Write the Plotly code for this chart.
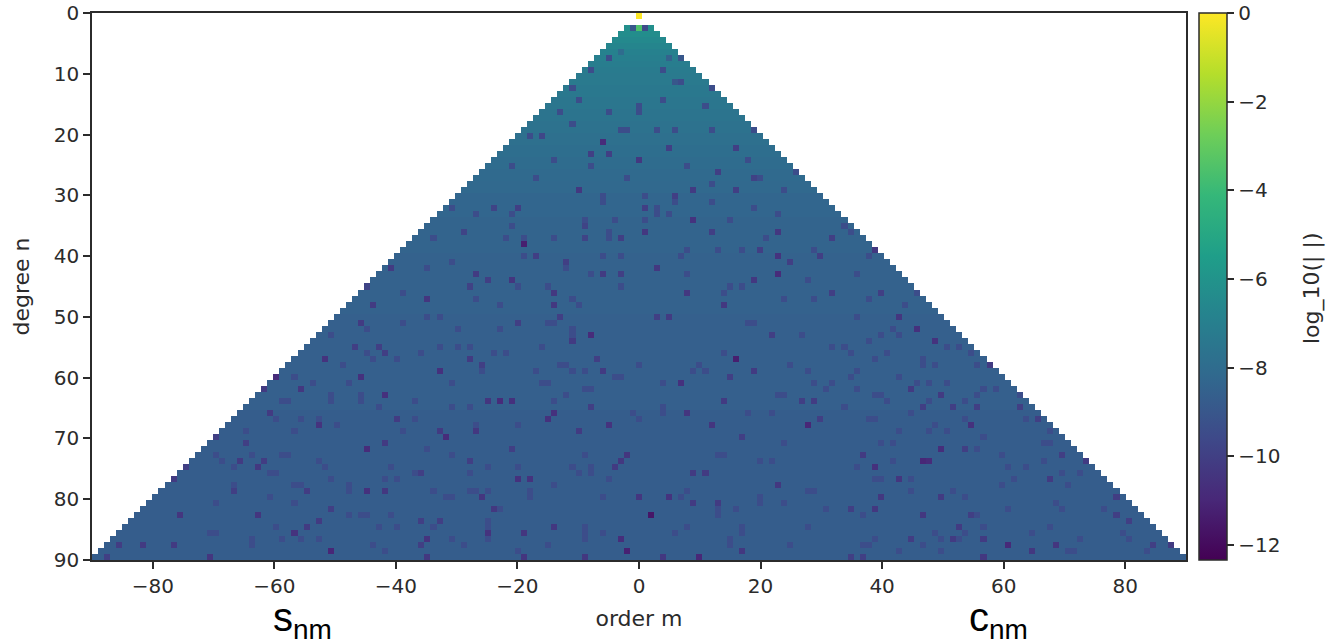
import plotly.graph_objects as go

# Typical log10 magnitude on each degree n = 0..90, estimated from the picture by colour
degree_level = [
    0.0, None, -6.2, -6.3, -6.5, -6.7, -6.9, -7.0, -7.1, -7.2,
    -7.3, -7.3, -7.4, -7.4, -7.5, -7.5, -7.6, -7.6, -7.7, -7.7,
    -7.8, -7.8, -7.9, -7.9, -8.0, -8.0, -8.1, -8.1, -8.2, -8.2,
    -8.3, -8.3, -8.3, -8.3, -8.4, -8.4, -8.4, -8.4, -8.4, -8.4,
    -8.5, -8.5, -8.5, -8.5, -8.5, -8.5, -8.5, -8.5, -8.5, -8.5,
    -8.6, -8.6, -8.6, -8.6, -8.6, -8.6, -8.6, -8.6, -8.6, -8.6,
    -8.6, -8.6, -8.6, -8.6, -8.6, -8.6, -8.7, -8.7, -8.7, -8.7,
    -8.7, -8.7, -8.7, -8.7, -8.7, -8.7, -8.7, -8.7, -8.7, -8.7,
    -8.7, -8.7, -8.7, -8.7, -8.7, -8.7, -8.7, -8.7, -8.7, -8.7, -8.7,
]

# Moderately dark cells seen in the zoomed crops: (order m, degree n)
mid_tone_value = -9.4
mid_tone_cells = [
    (-5, 7), (-8, 9), (4, 9), (7, 11), (6, 11), (-11, 12), (12, 12), (-10, 14), (4, 14), (0, 15), (11, 15), (-13, 16), (-5, 16), (0, 16),
    (-11, 18), (-3, 19), (-2, 19), (3, 19), (6, 19), (12, 19), (19, 19), (-18, 20), (18, 24), (-14, 24), (-8, 25), (8, 25), (-21, 25),
    (13, 26), (26, 26), (-17, 27), (-2, 27), (20, 27), (12, 28), (24, 29), (-6, 30), (1, 30), (-6, 31), (6, 31), (12, 31), (-31, 32), (3, 32), (19, 32),
    (-27, 33), (-21, 33), (3, 33), (5, 33), (23, 33), (-9, 34), (-4, 34), (1, 34), (15, 34), (-21, 35), (34, 35), (-5, 36), (35, 36),
    (-5, 37), (-22, 37), (-14, 37), (-19, 37), (-34, 37), (21, 37), (8, 39), (13, 39), (17, 39), (29, 39), (-19, 40), (-6, 40), (-3, 40), (7, 40), (38, 40),
    (-31, 41), (-12, 42), (-35, 42), (-8, 43), (8, 43), (36, 43), (28, 44), (-15, 45), (-3, 45), (-20, 45), (15, 45), (17, 45), (-39, 46), (14, 46), (46, 46),
    (-11, 47), (-27, 47), (24, 47), (29, 47), (38, 47), (-23, 48), (-10, 48), (44, 48), (-35, 50), (-33, 50), (36, 50),
    (-15, 51), (-14, 51), (-39, 51), (18, 51), (19, 51), (-23, 52), (-30, 52), (-45, 52), (-11, 52), (42, 52), (-51, 53), (-11, 53), (27, 53), (40, 53), (43, 53),
    (38, 54), (-33, 55), (-30, 55), (-28, 55), (-16, 55), (32, 55), (34, 55), (51, 55), (53, 55), (-36, 56), (-24, 56), (-22, 56), (-45, 56), (14, 56), (35, 56), (41, 56), (55, 56),
    (-44, 57), (-40, 57), (39, 57), (47, 57), (-49, 58), (-13, 58), (-12, 58), (0, 58), (10, 58), (25, 58), (47, 58), (49, 58), (56, 58),
    (-26, 59), (-17, 59), (-11, 59), (-9, 59), (9, 59), (11, 59), (28, 59), (36, 59), (-57, 60), (-4, 60), (-3, 60), (35, 60), (43, 60),
    (-54, 61), (-48, 61), (-31, 61), (-16, 61), (-15, 61), (4, 61), (29, 61), (32, 61), (46, 61), (48, 61), (51, 61), (-9, 62), (-8, 62), (31, 62), (36, 62), (57, 62), (59, 62),
    (-51, 63), (-46, 63), (-12, 63), (23, 63), (24, 63), (39, 63), (40, 63), (56, 63), (63, 63), (-51, 64), (-46, 64), (-37, 64), (-58, 64), (-59, 64), (-14, 64), (41, 64), (48, 64), (54, 64),
    (-43, 65), (-31, 65), (-28, 65), (4, 65), (34, 65), (-1, 66), (4, 66), (18, 66), (22, 66), (45, 66), (-53, 67), (-56, 67), (-60, 67), (-37, 67), (0, 67), (38, 67), (39, 67), (54, 67), (64, 67),
    (-50, 68), (-27, 68), (-20, 68), (49, 68), (-57, 69), (-39, 69), (-65, 69), (43, 69), (48, 69), (51, 69), (68, 69), (57, 70),
    (24, 71), (40, 71), (42, 71), (67, 71), (68, 71), (-35, 72), (56, 72), (-70, 73), (-64, 73), (-59, 73), (-58, 73), (-31, 73), (-9, 73), (13, 73), (14, 73), (60, 73),
    (-69, 74), (-53, 74), (-28, 74), (20, 74), (22, 74), (42, 74), (67, 74), (-67, 75), (-52, 75), (-41, 75), (-25, 75), (-20, 75), (-11, 75), (-8, 75), (36, 75), (61, 75), (64, 75),
    (-61, 76), (-60, 76), (-37, 76), (-28, 76), (-10, 76), (-8, 76), (70, 76), (73, 76), (-51, 77), (-42, 77), (-40, 77), (-5, 77), (39, 77), (40, 77), (45, 77), (62, 77),
    (-67, 78), (-57, 78), (-56, 78), (-48, 78), (-14, 78), (60, 78), (71, 78), (-48, 79), (-34, 79), (-28, 79), (-27, 79), (-25, 79), (-18, 79), (8, 79), (28, 79), (29, 79), (45, 79), (52, 79),
    (-61, 80), (-32, 80), (-31, 80), (-18, 80), (-6, 80), (7, 80), (20, 80), (54, 80), (-70, 81), (-57, 81), (20, 81), (24, 81), (69, 81),
    (-23, 82), (13, 82), (16, 82), (31, 82), (35, 82), (61, 82), (70, 82), (77, 82), (-48, 83), (-46, 83), (-45, 83), (-41, 83), (13, 83), (37, 83), (56, 83),
    (-33, 84), (-25, 84), (-60, 85), (-43, 85), (-40, 85), (-34, 85), (-25, 85), (-9, 85), (8, 85), (17, 85), (28, 85), (57, 85), (68, 85),
    (-71, 86), (-70, 86), (-9, 86), (-6, 86), (6, 86), (17, 86), (49, 86), (54, 86), (65, 86), (80, 86),
    (-64, 87), (-59, 87), (-56, 87), (-53, 87), (-31, 87), (-25, 87), (-9, 87), (15, 87), (39, 87), (50, 87), (53, 87), (73, 87), (81, 87),
    (-64, 88), (-44, 88), (-29, 88), (-15, 88), (15, 88), (25, 88), (37, 88), (38, 88), (47, 88), (-42, 89), (-20, 89), (43, 89), (50, 89), (71, 89), (72, 89), (84, 89),
]

cell_readings = [
    (-1, 2, -9.0), (0, 2, -3.5), (1, 2, -9.5), (-3, 6, -8.0), (5, 7, -8.5), (7, 7, -9.0), (6, 11, -9.0),
    (-16, 20, -9.7), (-6, 21, -10.8), (5, 22, -10.0), (16, 22, -10.0), (-5, 23, -10.0), (-8, 23, -10.0), (0, 24, -10.3),
    (13, 26, -10.0), (19, 27, -9.9), (-10, 29, -10.3), (9, 29, -10.2), (16, 29, -10.0), (6, 30, -10.0),
    (-20, 32, -10.0), (-24, 32, -9.8), (1, 32, -10.0), (9, 34, -10.5), (-9, 35, -9.8), (-29, 36, -9.8), (1, 36, -10.3),
    (23, 36, -10.3), (12, 36, -10.0), (-3, 37, -10.0), (-9, 37, -9.8), (32, 37, -10.0), (-19, 38, -11.3), (39, 39, -10.3),
    (20, 39, -10.0), (-17, 40, -10.0), (23, 40, -10.5), (30, 40, -10.0), (-12, 41, -10.0), (25, 41, -10.0),
    (-41, 42, -10.2), (3, 42, -10.3), (-27, 43, -10.2), (-6, 43, -10.2), (-3, 43, -10.0), (23, 43, -10.8),
    (-21, 44, -10.4), (-25, 44, -10.0), (19, 44, -10.3), (-28, 45, -9.9), (-45, 45, -9.8), (-14, 46, -10.3),
    (8, 46, -10.3), (32, 46, -10.0), (40, 46, -10.0), (-35, 47, -10.4), (-44, 48, -10.2), (-14, 48, -10.3), (14, 48, -10.3),
    (43, 50, -10.4), (5, 50, -10.2), (-13, 50, -10.0), (3, 50, -10.0), (-46, 51, -10.2), (-20, 51, -10.0), (46, 52, -10.6),
    (-8, 53, -10.8), (22, 53, -10.0), (-11, 54, -10.2), (49, 54, -10.5), (-43, 55, -10.0), (-47, 55, -10.0), (-42, 56, -10.0),
    (-52, 57, -10.5), (16, 57, -11.3), (-7, 57, -10.0), (-28, 57, -10.2), (-26, 58, -10.0), (58, 58, -10.2),
    (-33, 59, -10.6), (-6, 59, -10.2), (19, 59, -10.2), (-46, 60, -10.6), (-60, 60, -10.8), (15, 60, -10.0), (7, 61, -10.6),
    (-56, 62, -10.3), (-62, 62, -10.2), (45, 62, -10.2), (-42, 63, -10.6), (50, 63, -10.2), (-23, 64, -10.8), (-25, 64, -10.4),
    (-21, 64, -10.6), (14, 64, -10.2), (29, 64, -10.1), (27, 64, -10.0), (47, 65, -10.0), (-8, 65, -10.0), (52, 65, -10.0),
    (56, 65, -10.0), (63, 65, -10.0), (-14, 66, -10.6), (8, 66, -10.4), (-61, 66, -10.2), (-15, 67, -10.6), (-40, 67, -10.2),
    (30, 67, -10.0), (66, 67, -10.0), (-53, 68, -10.5), (-5, 68, -10.5), (12, 68, -10.4), (28, 68, -11.0), (55, 68, -10.6),
    (-33, 69, -10.2), (-27, 69, -10.3), (-10, 69, -10.2), (-32, 70, -10.8), (-70, 70, -10.0), (17, 70, -10.0),
    (-65, 71, -10.0), (-42, 71, -10.2), (-21, 72, -10.0), (50, 72, -10.7), (-45, 72, -10.8), (54, 72, -10.0),
    (-2, 73, -10.4), (37, 73, -10.2), (70, 73, -10.0), (-3, 74, -10.3), (47, 74, -11.0), (48, 74, -10.8), (-66, 74, -10.2),
    (-62, 74, -10.1), (-28, 74, -10.0), (74, 74, -10.2), (-4, 75, -10.2), (39, 75, -10.6), (-63, 75, -10.3), (-75, 75, -10.0),
    (9, 76, -10.2), (11, 76, -10.2), (-36, 76, -10.0), (-20, 77, -10.6), (-18, 77, -10.5), (43, 77, -10.4), (68, 77, -10.2),
    (-77, 77, -10.2), (23, 78, -10.3), (-45, 79, -10.6), (-42, 79, -10.3), (-55, 79, -10.1), (-67, 79, -10.0),
    (5, 80, -10.5), (0, 80, -10.4), (-26, 80, -10.4), (40, 80, -10.3), (50, 80, -10.2), (79, 80, -10.1),
    (13, 81, -10.2), (9, 81, -10.2), (-24, 82, -10.3), (39, 82, -10.3), (-51, 82, -10.0), (35, 82, -10.0),
    (2, 83, -11.6), (47, 83, -10.3), (-63, 83, -10.4), (-76, 83, -10.4), (79, 83, -10.0), (55, 83, -10.0),
    (81, 84, -10.0), (-53, 84, -10.2), (-36, 84, -10.0), (-33, 84, -10.0), (-14, 85, -10.3), (53, 85, -10.2), (-55, 85, -10.2),
    (-25, 86, -10.5), (-19, 86, -10.4), (-57, 86, -10.5), (-3, 87, -10.7), (-35, 87, -10.5), (52, 87, -10.2), (57, 87, -10.2),
    (45, 87, -10.1), (61, 88, -10.9), (69, 88, -10.4), (88, 88, -10.2), (85, 88, -10.0), (-82, 88, -10.2), (-86, 88, -10.1),
    (-77, 88, -10.2), (-36, 88, -10.0), (-2, 89, -11.2), (17, 89, -10.3), (-51, 89, -11.0), (65, 89, -10.3),
    (10, 90, -11.0), (-19, 90, -10.4), (4, 90, -10.3), (-9, 90, -10.3), (-35, 90, -10.3), (-71, 90, -10.4), (57, 90, -10.3),
    (35, 90, -10.0), (37, 90, -10.0), (-88, 90, -10.0),
]

x_ticks = [-80, -60, -40, -20, 0, 20, 40, 60, 80]
y_ticks = [0, 10, 20, 30, 40, 50, 60, 70, 80, 90]
bar_ticks = [0, -2, -4, -6, -8, -10, -12]

orders = list(range(-90, 91))
degrees = list(range(0, 91))

grid = []
for n in degrees:
    row = []
    for m in orders:
        row.append(degree_level[n] if abs(m) <= n else None)
    grid.append(row)
for m, n in mid_tone_cells:
    if abs(m) <= n:
        grid[n][m + 90] = mid_tone_value
for m, n, v in cell_readings:
    grid[n][m + 90] = v

INK = "#2b2b2b"
TICK_FONT = dict(family="DejaVu Sans", size=20, color=INK)
TITLE_FONT = dict(family="DejaVu Sans", size=22, color=INK)
fig = go.Figure(go.Heatmap(
    z=grid,
    x0=-90 + 90 / 181, dx=180 / 181,
    y0=45 / 91, dy=90 / 91,
    colorscale="Viridis", zmin=-12.34, zmax=0, hoverongaps=False,
    colorbar=dict(
        x=(1199 - 92) / 1094, xanchor="left", xpad=0, y=0.5, yanchor="middle", ypad=0, len=1,
        thickness=28, thicknessmode="pixels", outlinecolor=INK, outlinewidth=1.5,
        tickmode="array", tickvals=bar_ticks, ticks="outside", ticklen=7, tickwidth=1.5, tickcolor=INK,
        tickfont=TICK_FONT,
    ),
))
axis = dict(showline=True, mirror=True, linecolor=INK, linewidth=1.5, ticks="outside", ticklen=7, tickwidth=1.5,
            tickcolor=INK, showgrid=False, zeroline=False, tickmode="array", tickfont=TICK_FONT)
fig.update_xaxes(axis, range=[-90, 90], tickvals=x_ticks, title=dict(text="order m", standoff=14, font=TITLE_FONT))
fig.update_yaxes(axis, range=[90, 0], tickvals=y_ticks, title=dict(text="degree n", standoff=18, font=TITLE_FONT))
for label, px in (("s<sub>nm</sub>", 302), ("c<sub>nm</sub>", 998)):
    fig.add_annotation(text=label, xref="paper", yref="paper", x=(px - 92) / 1094, y=-(620 - 560) / 547,
                       xanchor="center", yanchor="middle", showarrow=False,
                       font=dict(family="Liberation Sans", size=40, color="black"))
fig.add_annotation(text="log_10(| |)", xref="paper", yref="paper", x=(1312 - 92) / 1094, y=(560 - 288) / 547,
                   xanchor="center", yanchor="middle", showarrow=False, textangle=-90, font=TITLE_FONT)
fig.update_layout(width=1327, height=644, margin=dict(l=92, r=141, t=13, b=84, autoexpand=False),
                  paper_bgcolor="white", plot_bgcolor="white")
fig.write_html("out.html", config={"displayModeBar": False}, post_script="document.body.style.margin='0';")
